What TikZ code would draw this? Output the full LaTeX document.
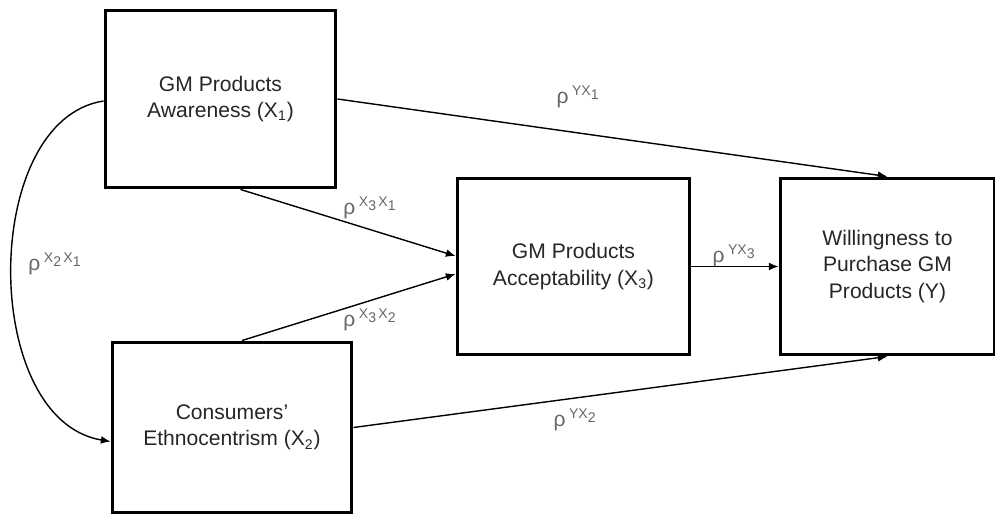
\documentclass[tikz,border=0pt]{standalone}
\usepackage{fontspec}
\setmainfont{Liberation Sans}
\usetikzlibrary{arrows.meta}

% path coefficient: rho with the pair of variables raised
\newcommand{\lo}[1]{\raisebox{-0.55ex}{#1}}
\newcommand{\pcoef}[1]{\textcolor{black!60}{ρ\,\textsuperscript{#1}}}

\begin{document}
\begin{tikzpicture}[x=0.02cm,y=-0.02cm,font=\fontsize{12}{15}\selectfont,
  var/.style={draw,line width=1.7pt,align=center,text=black!85,inner sep=2pt},
  path/.style={line width=0.8pt,-{Latex[length=5.5pt,width=4.5pt]}}]
\useasboundingbox (0,0) rectangle (995,524);
\node[var,minimum width=4.62cm,minimum height=3.56cm] (aware) at (220.5,99) {GM Products\\Awareness (X\textsubscript{1})};
\node[var,minimum width=4.8cm,minimum height=3.42cm] (ethno) at (232,427.5) {Consumers’\\Ethnocentrism (X\textsubscript{2})};
\node[var,minimum width=4.66cm,minimum height=3.54cm] (accept) at (573.5,266.5) {GM Products\\Acceptability (X\textsubscript{3})};
\node[var,minimum width=4.3cm,minimum height=3.54cm] (willing) at (887.5,266.5) {Willingness to\\Purchase GM\\Products (Y)};
\draw[path] (aware.east) -- (willing.north);
\draw[path] ([xshift=0.4cm]aware.south) -- ([yshift=0.21cm]accept.west);
\draw[path] ([xshift=0.2cm]ethno.north) -- ([yshift=-0.15cm]accept.west);
\draw[path] (accept.east) -- (willing.west);
\draw[path] (ethno.east) -- (willing.south);
\draw[path] ([yshift=-0.04cm]aware.west) .. controls (-20,120) and (-20,420) .. ([yshift=-0.28cm]ethno.west);
\node (r21) at (55,264) {\pcoef{X\lo{2}\,X\lo{1}}};
\node (r31) at (370,208) {\pcoef{X\lo{3}\,X\lo{1}}};
\node (r32) at (370,320) {\pcoef{X\lo{3}\,X\lo{2}}};
\node (ry1) at (578,97) {\pcoef{YX\lo{1}}};
\node (ry3) at (734,256) {\pcoef{YX\lo{3}}};
\node (ry2) at (575,420) {\pcoef{YX\lo{2}}};
\end{tikzpicture}
\end{document}
